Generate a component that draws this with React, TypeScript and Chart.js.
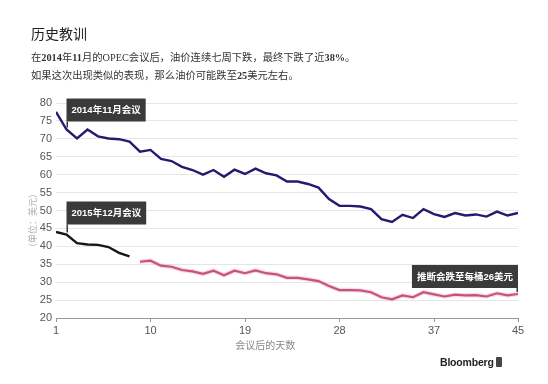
import React, { useEffect, useRef } from "react";
import { Chart, registerables } from "chart.js";

Chart.register(...registerables);

// ---- data ----
const DAYS_ALL = [1, 2, 3, 4, 5, 6, 7, 8, 9, 10, 11, 12, 13, 14, 15, 16, 17, 18, 19, 20, 21, 22, 23, 24, 25, 26, 27, 28, 29, 30, 31, 32, 33, 34, 35, 36, 37, 38, 39, 40, 41, 42, 43, 44, 45];
const OIL_2014 = [77.5, 72.6, 70.1, 72.6, 70.7, 70.1, 69.9, 69.2, 66.4, 66.9, 64.4, 63.8, 62.2, 61.3, 60.0, 61.3, 59.4, 61.4, 60.2, 61.7, 60.4, 59.8, 58.1, 58.1, 57.4, 56.4, 53.2, 51.3, 51.3, 51.1, 50.4, 47.6, 46.8, 48.8, 47.9, 50.4, 49.0, 48.2, 49.3, 48.6, 48.9, 48.3, 49.7, 48.6, 49.3];
const DAYS_2015 = [1, 2, 3, 4, 5, 6, 7, 8];
const OIL_2015 = [44.0, 43.3, 40.9, 40.5, 40.4, 39.8, 38.2, 37.2];
const DAYS_PROJ = [9, 10, 11, 12, 13, 14, 15, 16, 17, 18, 19, 20, 21, 22, 23, 24, 25, 26, 27, 28, 29, 30, 31, 32, 33, 34, 35, 36, 37, 38, 39, 40, 41, 42, 43, 44, 45];
const OIL_PROJ = [35.7, 36.0, 34.6, 34.3, 33.4, 33.0, 32.3, 33.2, 31.9, 33.2, 32.5, 33.3, 32.5, 32.2, 31.2, 31.2, 30.8, 30.3, 28.9, 27.8, 27.8, 27.7, 27.2, 25.8, 25.2, 26.3, 25.8, 27.2, 26.6, 26.0, 26.5, 26.3, 26.4, 26.0, 26.9, 26.3, 26.7];
const X_TICKS = [1, 10, 19, 28, 37, 45];
const Y_MIN = 20;
const Y_MAX = 80;
const Y_STEP = 5;

const TITLE = "历史教训";
const X_TITLE = "会议后的天数";
const Y_TITLE = "（单位：美元）";
const NOTE_2014 = "2014年11月会议";
const NOTE_2015 = "2015年12月会议";
const NOTE_PROJ = "推断会跌至每桶26美元";

const toXY = (xs: number[], ys: number[]) => ys.map((v, i) => ({ x: xs[i], y: v }));

const notesPlugin = {
  id: "notes",
  afterDatasetsDraw(chart: any) {
    const ctx = chart.ctx as CanvasRenderingContext2D;
    const ca = chart.chartArea;
    ctx.save();
    // axis titles
    ctx.fillStyle = "#8a8a8a";
    ctx.font = '10px "Noto Sans CJK SC", sans-serif';
    ctx.textAlign = "center";
    ctx.textBaseline = "middle";
    ctx.fillText(X_TITLE, ca.left + (ca.right - ca.left) * 0.453, ca.bottom + 27);
    ctx.save();
    ctx.translate(33, (ca.top + ca.bottom) / 2 + 10);
    ctx.rotate(-Math.PI / 2);
    ctx.fillStyle = "#b0b0b0";
    ctx.font = '9px "Noto Sans CJK SC", sans-serif';
    ctx.fillText(Y_TITLE, 0, 0);
    ctx.restore();

    const notes = [
      { ds: 0, idx: 1, text: NOTE_2014, side: "left", gap: 8 },
      { ds: 1, idx: 1, text: NOTE_2015, side: "left", gap: 10 },
      { ds: 3, idx: OIL_PROJ.length - 1, text: NOTE_PROJ, side: "right", gap: 6 },
    ];
    ctx.font = 'bold 9.5px "Liberation Sans", "Noto Sans CJK SC", sans-serif';
    for (const n of notes) {
      const pt = chart.getDatasetMeta(n.ds).data[n.idx];
      if (!pt) continue;
      const tw = ctx.measureText(n.text).width;
      const w = tw + 10;
      const h = 23;
      const x0 = n.side === "left" ? pt.x : pt.x - w;
      const y1 = pt.y - n.gap;
      const y0 = y1 - h;
      ctx.fillStyle = "#3a3a3a";
      ctx.fillRect(x0, y0, w, h);
      ctx.strokeStyle = "#3a3a3a";
      ctx.lineWidth = 1.5;
      ctx.beginPath();
      ctx.moveTo(pt.x + (n.side === "left" ? 0.75 : -0.75), y1);
      ctx.lineTo(pt.x + (n.side === "left" ? 0.75 : -0.75), pt.y - 2);
      ctx.stroke();
      ctx.fillStyle = "#ffffff";
      ctx.textAlign = "center";
      ctx.textBaseline = "middle";
      ctx.fillText(n.text, x0 + w / 2, y0 + h / 2 + 0.5);
    }
    ctx.restore();
  },
};

export default function App() {
  const ref = useRef<HTMLCanvasElement | null>(null);

  useEffect(() => {
    if (!ref.current) return;
    const chart = new Chart(ref.current, {
      type: "line",
      data: {
        datasets: [
          {
            label: "2014",
            data: toXY(DAYS_ALL, OIL_2014),
            borderColor: "#241a6e",
            borderWidth: 2.4,
            pointRadius: 0,
            tension: 0,
          },
          {
            label: "2015",
            data: toXY(DAYS_2015, OIL_2015),
            borderColor: "#161616",
            borderWidth: 2.4,
            pointRadius: 0,
            tension: 0,
          },
          {
            label: "halo",
            data: toXY(DAYS_PROJ, OIL_PROJ),
            borderColor: "rgba(232,150,185,0.35)",
            borderWidth: 4.5,
            pointRadius: 0,
            tension: 0,
          },
          {
            label: "projection",
            data: toXY(DAYS_PROJ, OIL_PROJ),
            borderColor: "#b52f62",
            borderWidth: 2.2,
            pointRadius: 0,
            tension: 0,
          },
        ],
      },
      options: {
        animation: false,
        responsive: false,
        devicePixelRatio: 1,
        layout: { padding: { left: 0, top: 103, right: 30, bottom: 29 } },
        plugins: { legend: { display: false }, tooltip: { enabled: false } },
        scales: {
          x: {
            type: "linear",
            min: 1,
            max: 45,
            afterBuildTicks: (s: any) => {
              s.ticks = X_TICKS.map((v) => ({ value: v }));
            },
            afterFit: (s: any) => {
              s.height = 37;
            },
            ticks: {
              autoSkip: false,
              maxRotation: 0,
              padding: 2,
              color: "#555",
              font: { family: '"Liberation Sans", sans-serif', size: 11 },
            },
            grid: {
              display: true,
              drawOnChartArea: false,
              drawTicks: true,
              tickLength: 4,
              color: "#999",
            },
            border: { display: true, color: "#999", width: 1 },
          },
          y: {
            min: Y_MIN,
            max: Y_MAX,
            afterFit: (s: any) => {
              s.width = 56;
            },
            ticks: {
              stepSize: Y_STEP,
              padding: 4,
              color: "#555",
              font: { family: '"Liberation Sans", sans-serif', size: 11 },
            },
            grid: { color: "#e6e6e6", drawTicks: false, lineWidth: 1 },
            border: { display: false },
          },
        },
      },
      plugins: [notesPlugin],
    });
    return () => chart.destroy();
  }, []);

  const serif = '"Liberation Serif", "Noto Sans CJK SC", serif';
  return (
    <div style={{ position: "absolute", left: 0, top: 0, width: 548, height: 384, background: "#fff", overflow: "hidden" }}>
      <canvas ref={ref} width={548} height={384} style={{ position: "absolute", left: 0, top: 0, width: 548, height: 384 }} />
      <div style={{ position: "absolute", left: 31, top: 26, fontFamily: serif, fontSize: 14, lineHeight: "18px", color: "#222" }}>{TITLE}</div>
      <div style={{ position: "absolute", left: 31, top: 51, fontFamily: serif, fontSize: 10.3, lineHeight: "14px", color: "#333", whiteSpace: "nowrap" }}>
        在<b>2014</b>年<b>11</b>月的OPEC会议后，油价连续七周下跌，最终下跌了近<b>38%</b>。
      </div>
      <div style={{ position: "absolute", left: 31, top: 69, fontFamily: serif, fontSize: 10.3, lineHeight: "14px", color: "#333", whiteSpace: "nowrap" }}>
        如果这次出现类似的表现，那么油价可能跌至<b>25</b>美元左右。
      </div>
      <div style={{ position: "absolute", left: 440, top: 355, width: 53, textAlign: "right", fontFamily: '"Liberation Sans", sans-serif', fontWeight: "bold", fontSize: 10.5, lineHeight: "14px", color: "#222", letterSpacing: -0.2 }}>
        Bloomberg
      </div>
      <div style={{ position: "absolute", left: 496, top: 357, width: 6, height: 10, background: "#444", borderRadius: 1 }} />
    </div>
  );
}
